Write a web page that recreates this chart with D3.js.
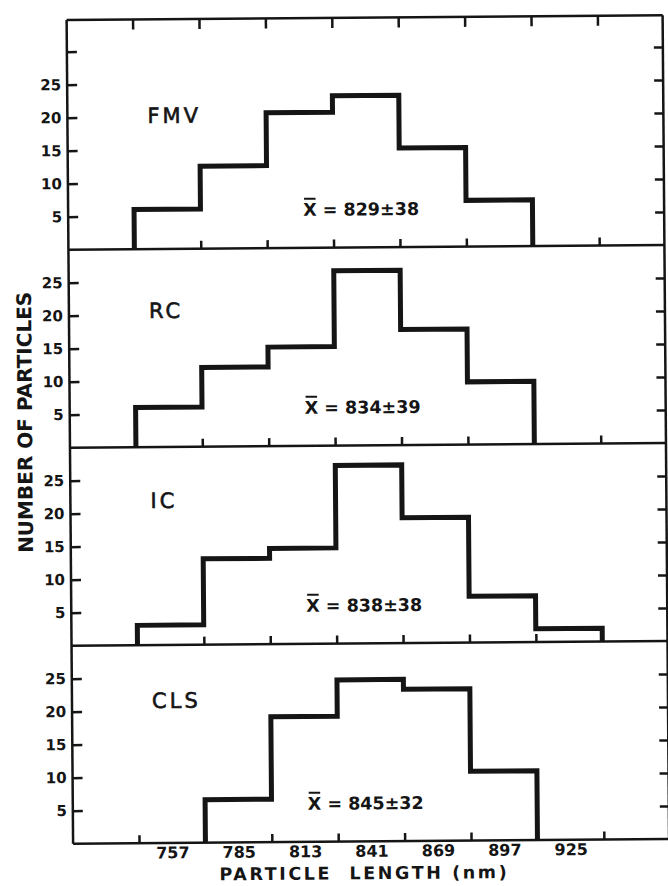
<!DOCTYPE html>
<html>
<head>
<meta charset="utf-8">
<script src="https://cdn.jsdelivr.net/npm/d3@7"></script>
<style>
  html, body { margin: 0; padding: 0; background: #fff; }
  svg { display: block; }
</style>
</head>
<body>
<div id="chart"></div>
<script>
// bin edges (nm) and the labelled bin centres
var binEdges = [743, 771, 799, 827, 855, 883, 911, 939];
var binCentres = [757, 785, 813, 841, 869, 897, 925];
var yTickValues = [5, 10, 15, 20, 25];

// counts per bin, starting at the first edge (743)
var panelNames = ["FMV", "RC", "IC", "CLS"];
var fmvCounts = [6, 12.5, 20.5, 23, 15, 7];
var rcCounts = [6, 12, 15, 26.5, 17.5, 9.5];
var icCounts = [3, 13, 14.5, 27, 19, 7, 2];
var clsCounts = [0, 6.5, 19, 24.5, 23, 10.5];
var meanLabels = ["829\u00b138", "834\u00b139", "838\u00b138", "845\u00b132"];

var allCounts = [fmvCounts, rcCounts, icCounts, clsCounts];

// layout
var width = 668, height = 886;
var left = 70, right = 666, top0 = 20, unit = 6.6;
var panelMax = [34.8, 30, 30, 30];
var labelLift = [126, 129, 137, 135];
var ink = "#151515";

var svg = d3.select("#chart").append("svg")
  .attr("width", width)
  .attr("height", height);

svg.append("rect").attr("width", width).attr("height", height).attr("fill", "#fff");

// the scanned figure sits slightly tilted
var g = svg.append("g").attr("transform", "rotate(-0.45," + left + ",450)");

var x = d3.scaleLinear().domain([715.2, 966.5]).range([left, right]);

function styleAxis(sel, size) {
  sel.select(".domain").remove();
  sel.selectAll(".tick line").attr("stroke", ink).attr("stroke-width", 2.5);
  sel.selectAll(".tick text")
    .attr("fill", ink)
    .style("font-family", "'DejaVu Sans', sans-serif")
    .style("font-weight", "bold")
    .style("font-size", size + "px");
}

var panelTop = top0;
var bottoms = [];

allCounts.forEach(function(counts, i) {
  var bottom = panelTop + panelMax[i] * unit;
  bottoms.push(bottom);
  var y = d3.scaleLinear().domain([0, panelMax[i]]).range([bottom, panelTop]);
  var ticks = i === 0 ? yTickValues.concat([30]) : yTickValues;

  // left axis ticks (inward) and labels
  g.append("g")
    .attr("transform", "translate(" + left + ",0)")
    .call(d3.axisLeft(y).tickValues(ticks).tickSize(-10).tickPadding(6)
      .tickFormat(function(d) { return d < 30 ? d : ""; }))
    .call(styleAxis, 15);

  // right axis ticks
  g.append("g")
    .attr("transform", "translate(" + right + ",0)")
    .call(d3.axisRight(y).tickValues(ticks).tickSize(-9).tickFormat(""))
    .call(styleAxis, 15);

  // bottom ticks pointing up
  g.append("g")
    .attr("transform", "translate(0," + bottom + ")")
    .call(d3.axisBottom(x).tickValues(binEdges).tickSize(-8).tickFormat(""))
    .call(styleAxis, 15);

  if (i === 0) {
    g.append("g")
      .attr("transform", "translate(0," + panelTop + ")")
      .call(d3.axisTop(x).tickValues(binEdges).tickSize(-10).tickFormat(""))
      .call(styleAxis, 15);
    g.append("line")
      .attr("x1", left).attr("x2", right)
      .attr("y1", panelTop).attr("y2", panelTop)
      .attr("stroke", ink).attr("stroke-width", 2.5);
  }

  // panel bottom line
  g.append("line")
    .attr("x1", left).attr("x2", right)
    .attr("y1", bottom).attr("y2", bottom)
    .attr("stroke", ink).attr("stroke-width", 2.5);

  // histogram outline
  var first = 0;
  while (counts[first] === 0) first++;
  var pts = [[binEdges[first], 0]];
  for (var k = first; k < counts.length; k++) pts.push([binEdges[k], counts[k]]);
  pts.push([binEdges[counts.length], 0]);

  var step = d3.line()
    .x(function(d) { return x(d[0]); })
    .y(function(d) { return y(d[1]); })
    .curve(d3.curveStepAfter);

  g.append("path")
    .datum(pts)
    .attr("d", step)
    .attr("fill", "none")
    .attr("stroke", ink)
    .attr("stroke-width", 5)
    .attr("stroke-linejoin", "miter");

  // panel name
  g.append("text")
    .attr("x", 150)
    .attr("y", bottom - labelLift[i])
    .attr("fill", ink)
    .attr("stroke", ink)
    .attr("stroke-width", 0.6)
    .style("font-family", "'DejaVu Sans', sans-serif")
    .style("font-size", "21px")
    .style("letter-spacing", "3px")
    .text(panelNames[i]);

  // mean +- sd
  var mt = g.append("text")
    .attr("x", 305)
    .attr("y", bottom - 32)
    .attr("fill", ink)
    .style("font-family", "'DejaVu Sans', sans-serif")
    .style("font-weight", "bold")
    .style("font-size", "17.5px");
  mt.append("tspan").text("X");
  mt.append("tspan").text(" = " + meanLabels[i]);
  var xw = mt.node().getSubStringLength(0, 1);
  g.append("line")
    .attr("x1", 305 + 1).attr("x2", 305 + xw - 1)
    .attr("y1", bottom - 32 - 17).attr("y2", bottom - 32 - 17)
    .attr("stroke", ink).attr("stroke-width", 2);

  panelTop = bottom;
});

// left and right frame
g.append("line")
  .attr("x1", left).attr("x2", left)
  .attr("y1", top0).attr("y2", bottoms[3])
  .attr("stroke", ink).attr("stroke-width", 2.5);
g.append("line")
  .attr("x1", right).attr("x2", right)
  .attr("y1", top0).attr("y2", bottoms[3])
  .attr("stroke", ink).attr("stroke-width", 2.5);

// x tick labels under the last panel (bin centres)
g.append("g")
  .attr("transform", "translate(0," + bottoms[3] + ")")
  .call(d3.axisBottom(x).tickValues(binCentres).tickSize(0).tickPadding(4))
  .call(styleAxis, 16);

// axis titles
g.append("text")
  .attr("transform", "translate(25,422) rotate(-90)")
  .attr("text-anchor", "middle")
  .attr("dy", "0.36em")
  .attr("fill", ink)
  .style("font-family", "'DejaVu Sans', sans-serif")
  .style("font-weight", "bold")
  .style("font-size", "20px")
  .text("NUMBER OF PARTICLES");

g.append("text")
  .attr("x", 361)
  .attr("y", 881.5)
  .attr("text-anchor", "middle")
  .attr("fill", ink)
  .style("font-family", "'DejaVu Sans', sans-serif")
  .style("font-weight", "bold")
  .style("font-size", "17.5px")
  .style("letter-spacing", "2.6px")
  .style("white-space", "pre")
  .text("PARTICLE  LENGTH (nm)");
</script>
</body>
</html>
